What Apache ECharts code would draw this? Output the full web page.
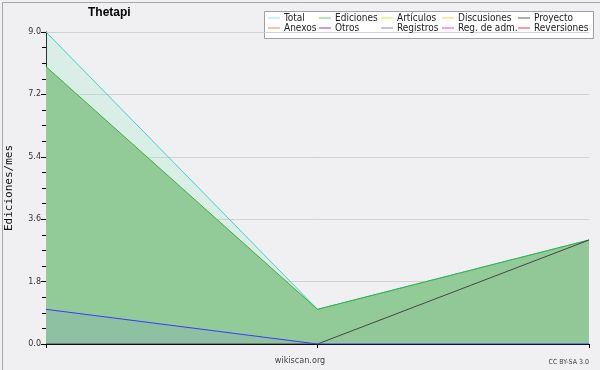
<!DOCTYPE html>
<html>
<head>
<meta charset="utf-8">
<script src="https://cdn.jsdelivr.net/npm/echarts@6/dist/echarts.min.js"></script>
<style>
  html, body { margin: 0; padding: 0; background: #f0f0f2; }
  #chart { width: 600px; height: 370px; }
</style>
</head>
<body>
<div id="chart"></div>
<script>
// datos
var categories = ['1', '2', '3']
var total = [9, 1, 3]
var ediciones = [8, 1, 3]
var registros = [1, 0, 0]
var proyecto = [0, 0, 3]
var yTicks = [0, 1.8, 3.6, 5.4, 7.2, 9.0]

var legendCols = [
    ['Total', 'Anexos'],
    ['Ediciones', 'Otros'],
    ['Artículos', 'Registros'],
    ['Discusiones', 'Reg. de adm.'],
    ['Proyecto', 'Reversiones']
]
var legendLeft = [268, 319, 381, 442, 518]
var colors = {
    'Total': '#3fd3cc',
    'Ediciones': '#3cb03c',
    'Artículos': '#c8f040',
    'Discusiones': '#ffd040',
    'Proyecto': '#444444',
    'Anexos': '#ff8040',
    'Otros': '#9030f0',
    'Registros': '#3a3aff',
    'Reg. de adm.': '#e040f0',
    'Reversiones': '#ff3030'
}
var legendColors = {
    'Total': '#90e8e8',
    'Ediciones': '#70c870',
    'Proyecto': '#606060',
    'Registros': '#7878ff'
}
var font = 'DejaVu Sans Condensed'

function emptySeries(name) {
    return { name: name, type: 'line', data: [], itemStyle: { color: colors[name] }, lineStyle: { color: colors[name] } }
}

var series = [
    {
        name: 'Total',
        type: 'line',
        symbol: 'none',
        data: total,
        lineStyle: { color: colors['Total'], width: 1 },
        itemStyle: { color: legendColors['Total'] },
        areaStyle: { color: '#90e8c8', opacity: 0.25 }
    },
    {
        name: 'Ediciones',
        type: 'line',
        symbol: 'none',
        data: ediciones,
        lineStyle: { color: colors['Ediciones'], width: 1 },
        itemStyle: { color: legendColors['Ediciones'] },
        areaStyle: { color: '#93cb98', opacity: 1 }
    },
    emptySeries('Artículos'),
    emptySeries('Discusiones'),
    {
        name: 'Proyecto',
        type: 'line',
        symbol: 'none',
        data: proyecto,
        lineStyle: { color: colors['Proyecto'], width: 1 },
        itemStyle: { color: legendColors['Proyecto'] },
        areaStyle: { color: '#808080', opacity: 0.03 }
    },
    emptySeries('Anexos'),
    emptySeries('Otros'),
    {
        name: 'Registros',
        type: 'line',
        symbol: 'none',
        data: registros,
        lineStyle: { color: colors['Registros'], width: 1 },
        itemStyle: { color: legendColors['Registros'] },
        areaStyle: { color: '#6060ff', opacity: 0.1 }
    },
    emptySeries('Reg. de adm.'),
    emptySeries('Reversiones')
]

var legends = legendCols.map(function (col, i) {
    return {
        orient: 'vertical',
        left: legendLeft[i],
        top: 13,
        padding: 0,
        itemGap: 0,
        itemWidth: 12,
        itemHeight: 1,
        icon: 'rect',
        selectedMode: false,
        textStyle: { fontFamily: font, fontSize: 10, color: '#222', padding: [0, 0, 0, -1], lineHeight: 10 },
        data: col.map(function (n) {
            return { name: n, itemStyle: { color: legendColors[n] || colors[n] } }
        })
    }
})

var option = {
    backgroundColor: '#f0f0f2',
    animation: false,
    title: {
        text: 'Thetapi',
        left: 88,
        top: 7,
        padding: 0,
        textStyle: { fontFamily: 'Liberation Sans', fontWeight: 'bold', fontSize: 12, color: '#000' }
    },
    legend: legends,
    grid: { left: 46, right: 11, top: 32, bottom: 26, outerBoundsMode: 'none' },
    xAxis: {
        type: 'category',
        boundaryGap: false,
        data: categories,
        axisLine: { lineStyle: { color: '#000', width: 1 } },
        axisTick: { show: true, length: 4, lineStyle: { color: '#000' } },
        axisLabel: { show: false },
        splitLine: { show: false }
    },
    yAxis: {
        type: 'value',
        min: yTicks[0],
        max: yTicks[yTicks.length - 1],
        interval: 1.8,
        name: 'Ediciones/mes',
        nameLocation: 'middle',
        nameGap: 31,
        nameTextStyle: { fontFamily: 'DejaVu Sans Mono', fontSize: 11, color: '#111' },
        axisLine: { show: true, lineStyle: { color: '#000', width: 1 } },
        axisTick: { show: true, length: 5, lineStyle: { color: '#000' } },
        minorTick: { show: true, splitNumber: 4, length: 4, lineStyle: { color: '#000' } },
        axisLabel: {
            fontFamily: 'DejaVu Sans',
            fontSize: 8,
            color: '#333',
            margin: 5,
            formatter: function (v) { return v.toFixed(1) }
        },
        splitLine: { show: true, lineStyle: { color: '#d2d2d4', width: 1 } }
    },
    graphic: [
        {
            type: 'rect',
            left: 0, top: 0,
            shape: { x: 0.5, y: 0.5, width: 599, height: 369 },
            style: { fill: 'none', stroke: '#a8a8a8', lineWidth: 1 },
            silent: true
        },
        {
            type: 'rect',
            shape: { x: 264.5, y: 11.5, width: 329, height: 27 },
            style: { fill: '#fff', stroke: '#a0a0a0', lineWidth: 1 },
            z: -1,
            silent: true
        },
        {
            type: 'text',
            left: 'center',
            top: 356,
            style: { text: 'wikiscan.org', fontFamily: font, fontSize: 9, fill: '#444' }
        },
        {
            type: 'text',
            right: 11,
            top: 359,
            style: { text: 'CC BY-SA 3.0', fontFamily: font, fontSize: 7, fill: '#444' }
        }
    ],
    series: series
}

var myChart = echarts.init(document.getElementById('chart'))
myChart.setOption(option)
</script>
</body>
</html>
